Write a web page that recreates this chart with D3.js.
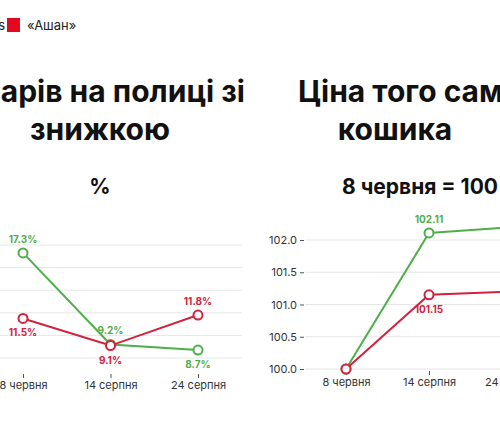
<!DOCTYPE html>
<html><head><meta charset="utf-8">
<script src="https://cdn.jsdelivr.net/npm/d3@7"></script>
<style>body{margin:0;background:#fff;font-family:Inter,"Noto Sans",sans-serif}</style>
</head><body>
<script>
let width = 500, height = 424;
let dates = ["8 червня", "14 серпня", "24 серпня"];
let discountNovus = [17.3, 9.2, 8.7];
let discountAuchan = [11.5, 9.1, 11.8];
let priceNovus = [100, 102.11, 102.2];
let priceAuchan = [100, 101.15, 101.2];
let discountTicks = [8, 10, 12, 14, 16, 18];
let priceTicks = [100, 100.5, 101, 101.5, 102];

let green = "#4fae4a", red = "#d2213c";

let svg = d3.select("body").append("svg").attr("width", width).attr("height", height);

// legend
svg.append("text").attr("x", 5).attr("y", 30).attr("text-anchor", "end")
  .attr("font-size", 13).attr("fill", "#222").text("Novus");
svg.append("rect").attr("x", 7).attr("y", 18).attr("width", 13).attr("height", 14).attr("fill", "#e30a1f");
svg.append("text").attr("x", 27).attr("y", 30).attr("font-size", 13).attr("fill", "#222").text("«Ашан»");

function bold(t, x, y, size, anchor) {
  svg.append("text").attr("x", x).attr("y", y).attr("text-anchor", anchor || "middle")
    .attr("font-size", size).attr("font-weight", 700).attr("fill", "#111").text(t);
}
bold("Частка товарів на полиці зі", 245, 102, 30, "end");
bold("знижкою", 100, 140, 30);
bold("%", 100, 194, 21);
bold("Ціна того самого", 298, 102, 30, "start");
bold("кошика", 395, 140, 30);
bold("8 червня = 100", 420, 194, 21);

function chart(opts) {
  let x = d3.scalePoint().domain(dates).range(opts.xr);
  let y = d3.scaleLinear().domain(opts.yd).range(opts.yr);
  let g = svg.append("g");
  g.selectAll(".grid").data(opts.ticks).enter().append("line")
    .attr("x1", opts.gx[0]).attr("x2", opts.gx[1])
    .attr("y1", d => y(d)).attr("y2", d => y(d))
    .attr("stroke", "#e6e6e6");
  let xa = g.append("g").attr("transform", "translate(0," + (opts.yr[0] + opts.xOff) + ")")
    .call(d3.axisBottom(x).tickSize(4).tickPadding(3));
  xa.select(".domain").remove();
  xa.selectAll("text").attr("font-size", 11).attr("fill", "#333").attr("font-family", "Inter,sans-serif");
  xa.selectAll("line").attr("stroke", "#555");
  let ya = g.append("g").attr("transform", "translate(" + opts.axisX + ",0)")
    .call(d3.axisLeft(y).tickValues(opts.ticks).tickFormat(d3.format(".1f")).tickSize(4).tickPadding(3));
  ya.select(".domain").remove();
  ya.selectAll("text").attr("font-size", 11).attr("fill", "#333").attr("font-family", "Inter,sans-serif");
  ya.selectAll("line").attr("stroke", "#555");
  opts.series.forEach(s => {
    let pts = s.values.map((v, i) => ({ x: x(dates[i]), y: y(v), v: v, pos: s.labels[i] }));
    g.append("path").attr("d", d3.line().x(d => d.x).y(d => d.y)(pts)).attr("fill", "none")
      .attr("stroke", s.color).attr("stroke-width", 2);
    g.selectAll(null).data(pts).enter().append("circle")
      .attr("cx", d => d.x).attr("cy", d => d.y).attr("r", 4.5)
      .attr("fill", "#fff").attr("stroke", s.color).attr("stroke-width", 2);
    g.selectAll(null).data(pts.filter(d => d.pos !== 0)).enter().append("text")
      .attr("x", d => d.x).attr("y", d => d.y + (d.pos < 0 ? -10 : 18))
      .attr("text-anchor", "middle").attr("font-size", 10).attr("font-weight", 700)
      .attr("fill", s.color).text(d => opts.fmt(d.v));
  });
}

chart({
  xr: [23, 198], yd: [8, 18], yr: [358, 245], ticks: discountTicks, xOff: 16,
  gx: [-10, 242], axisX: -20, fmt: d => d + "%",
  series: [
    { values: discountNovus, color: green, labels: [-1, -1, 1] },
    { values: discountAuchan, color: red, labels: [1, 1, -1] }
  ]
});
chart({
  xr: [346, 512], yd: [100, 102], yr: [369, 240], ticks: priceTicks, xOff: 2,
  gx: [305, 520], axisX: 304, fmt: d => d.toFixed(2),
  series: [
    { values: priceNovus, color: green, labels: [0, -1, 0] },
    { values: priceAuchan, color: red, labels: [0, 1, 0] }
  ]
});
</script>
</body></html>
